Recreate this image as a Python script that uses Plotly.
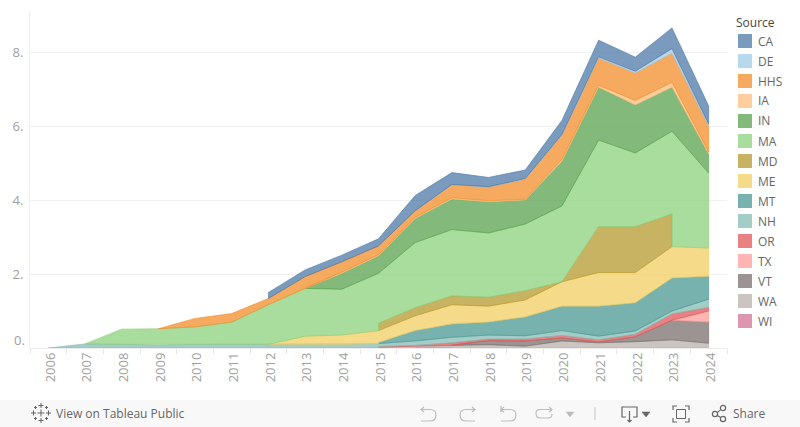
import plotly.graph_objects as go

years = list(range(2006, 2025))


def since(start, vals):
    return [None] * (start - 2006) + vals


WI = since(2016, [0.01, 0.01]) + [None] * 7
WA = since(2015, [.02, .04, .06, .09, .05, .19, .14, .17, .22, .13])
VT = since(2017, [.01, .11, .14, .08, .02, .13, .53, .57])
TX = since(2023, [0, .30])
OR = since(2015, [.02, .02, .06, .04, .05, .07, .06, .07, .17, .10])
NH = [0, .11, .10, .08, .10, .10, .10, .10, .10, .08, .12, .15, .11, .09, .13, .10, .09, .08, .22]
MT = since(2015, [.03, .28, .36, .35, .51, .66, .81, .76, .89, .62])
ME = since(2012, [0, .22, .25, .32, .40, .52, .43, .46, .66, .91, .82, .85, .76])
MD = since(2015, [.20, .22, .24, .24, .25, 0, 1.24, 1.24, .88, None])
MA = since(2007, [0, .41, .44, .47, .60, 1.07, 1.29, 1.24, 1.35, 1.76, 1.79, 1.74, 1.80, 2.05, 2.34, 1.99, 2.24, 2.03])
IN = since(2013, [0, .43, .47, .65, .83, .84, .65, 1.21, 1.43, 1.30, 1.19, .51])
IA = since(2013, [.02, .03, .03, .03, .03, .03, .02, .05, .05, .12, .13, .06])
HHS = since(2009, [0, .23, .23, .17, .30, .28, .24, .18, .35, .37, .55, .66, .74, .74, .79, .70])
DE = since(2016, [.01, .01, .01, .01, .01, .03, .05, .12, .05])
CA = since(2012, [.16, .18, .18, .19, .40, .32, .25, .23, .38, .45, .38, .56, .49])

legend_order = ["CA", "DE", "HHS", "IA", "IN", "MA", "MD", "ME", "MT", "NH", "OR", "TX", "VT", "WA", "WI"]
series = {"CA": CA, "DE": DE, "HHS": HHS, "IA": IA, "IN": IN, "MA": MA, "MD": MD, "ME": ME,
          "MT": MT, "NH": NH, "OR": OR, "TX": TX, "VT": VT, "WA": WA, "WI": WI}
colors = {"CA": "78,121,167", "DE": "160,203,232", "HHS": "242,142,43", "IA": "255,190,125",
          "IN": "89,161,79", "MA": "140,209,125", "MD": "182,153,45", "ME": "241,206,99",
          "MT": "73,152,148", "NH": "134,188,182", "OR": "225,87,89", "TX": "255,157,154",
          "VT": "121,112,110", "WA": "186,176,172", "WI": "211,114,149"}
ALPHA = 0.75

L, R, T, B = 30, 73, 12, 79
W, H = 800, 427
PW, PH = W - L - R, H - T - B


def px(x):
    return (x - L) / PW


def py(y):
    return (H - B - y) / PH


# running stack: the top of every layer at every year
stack_order = list(reversed(legend_order))
tops = {}
running = [0.0] * len(years)
for name in stack_order:
    vals = series[name]
    for i, v in enumerate(vals):
        if v is not None:
            running[i] += v
    tops[name] = [running[i] if vals[i] is not None else None for i in range(len(years))]


def floor_of_segment(pos, i):
    """Top of the nearest lower layer present at both ends of segment i..i+1."""
    for name in reversed(stack_order[:pos]):
        if series[name][i] is not None and series[name][i + 1] is not None:
            return tops[name][i], tops[name][i + 1]
    return 0.0, 0.0


fig = go.Figure()
for pos, name in enumerate(stack_order):
    vals = series[name]
    idx = [i for i, v in enumerate(vals) if v is not None]
    xs = [years[i] for i in idx]
    ys = [tops[name][i] for i in idx]
    for i in reversed(idx[:-1]):
        a, b = floor_of_segment(pos, i)
        xs += [years[i + 1], years[i]]
        ys += [b, a]
    fig.add_trace(go.Scatter(
        x=xs + xs[:1], y=ys + ys[:1], mode="lines", fill="toself", name=name,
        fillcolor=f"rgba({colors[name]},{ALPHA})",
        line=dict(color=f"rgba({colors[name]},0.8)", width=0.8),
        hoverinfo="name", showlegend=False))

FONT = "Open Sans"
shapes, ann = [], []


def text(x, y, s, size=12, color="#555555", anchor="left"):
    ann.append(dict(x=px(x), y=py(y), xref="paper", yref="paper", text=s, showarrow=False,
                    xanchor=anchor, yanchor="middle", borderpad=0,
                    font=dict(family=FONT, size=size, color=color)))


def path(d, color="#bdbdbd", width=1.2, fill=None):
    out = []
    for tok in d.split():
        if "," in tok:
            a, b = tok.split(",")
            out.append(f"{px(float(a)):.5f},{py(float(b)):.5f}")
        else:
            out.append(tok)
    shapes.append(dict(type="path", xref="paper", yref="paper", path=" ".join(out),
                       line=dict(color=color, width=width),
                       fillcolor=fill if fill else "rgba(0,0,0,0)", layer="above"))


def rect(x0, y0, x1, y1, fill, line=None):
    shapes.append(dict(type="rect", xref="paper", yref="paper", x0=px(x0), x1=px(x1), y0=py(y1), y1=py(y0),
                       fillcolor=fill, line=dict(width=0 if line is None else 1, color=line or fill),
                       layer="above"))


def circle(cx, cy, r, color="#666666"):
    shapes.append(dict(type="circle", xref="paper", yref="paper", x0=px(cx - r), x1=px(cx + r),
                       y0=py(cy + r), y1=py(cy - r), line=dict(color=color, width=1.2),
                       fillcolor="rgba(0,0,0,0)", layer="above"))


# legend
text(735, 22, "Source", size=12, color="#444444")
for i, name in enumerate(legend_order):
    cy = 41 + 20 * i
    rect(738, cy - 7, 752, cy + 7, f"rgba({colors[name]},{ALPHA})")
    text(757, cy, name, size=12, color="#666666")

# y label at the baseline sits above its gridline
text(26, 340, "0.", size=13, color="#a0a0a0", anchor="right")

# toolbar
rect(0, 400, 800, 427, "#f8f8f8")
text(55, 413, "View on Tableau Public", size=12, color="#666666")
text(732, 413, "Share", size=12, color="#666666")
for (cx, cy, a) in [(41, 413, 3.5), (41, 405.5, 2.5), (41, 420.5, 2.5), (33.5, 413, 2.5), (48.5, 413, 2.5),
                    (35.5, 407.5, 1.5), (46.5, 407.5, 1.5), (35.5, 418.5, 1.5), (46.5, 418.5, 1.5)]:
    path(f"M {cx - a},{cy} L {cx + a},{cy} M {cx},{cy - a} L {cx},{cy + a}", color="#666666", width=1)
path("M 424,407 L 421,409.5 L 424,412 M 421,409.5 L 430,409.5 Q 436,409.5 436,415 Q 436,421 430,421 L 421,421")
path("M 472,407 L 475,409.5 L 472,412 M 475,409.5 L 466,409.5 Q 460,409.5 460,415 Q 460,421 466,421 L 475,421")
path("M 501,406 L 501,412 M 504,407 L 501,409.5 L 504,412 M 501,409.5 L 510,409.5 Q 516,409.5 516,415 Q 516,421 510,421 L 501,421")
path("M 549,407 L 552,409.5 L 549,412 M 552,409.5 L 540,409.5 Q 536,409.5 536,413 Q 536,418 540,418 L 548,418 Q 552,418 552,414")
path("M 566,412 L 574,412 L 570,417 Z", fill="#bdbdbd", width=0.5)
path("M 595,407 L 595,420", color="#c4c4c4", width=1)
path("M 626,417 L 622,417 L 622,407 L 637,407 L 637,417 L 633,417", color="#666666")
path("M 629.5,411 L 629.5,422 M 627.5,420 L 629.5,422 L 631.5,420", color="#666666")
path("M 642,412 L 650,412 L 646,417 Z", color="#666666", fill="#666666", width=0.5)
path("M 673,410 L 673,406 L 677,406 M 685,406 L 689,406 L 689,410 M 689,418 L 689,422 L 685,422 M 677,422 L 673,422 L 673,418", color="#666666")
rect(676.5, 409.5, 685.5, 418.5, "rgba(0,0,0,0)", line="#666666")
circle(715, 414, 2.6)
circle(723, 408, 2.6)
circle(723, 419, 2.6)
path("M 717.2,412.6 L 720.8,409.6 M 717.2,415.4 L 720.8,417.6", color="#666666")

fig.update_layout(
    width=W, height=H, margin=dict(l=L, r=R, t=T, b=B, autoexpand=False),
    paper_bgcolor="white", plot_bgcolor="white", showlegend=False,
    shapes=shapes, annotations=ann,
    font=dict(family=FONT),
    xaxis=dict(range=[2005.5, 2024.5], tickvals=years, ticktext=[str(y) for y in years], tickangle=-90,
               ticks="", ticklen=0, showgrid=False, zeroline=False, showline=False,
               ticklabelshift=2, ticklabelstandoff=1,
               tickfont=dict(family=FONT, size=13, color="#a0a0a0"),
               minor=dict(tickvals=[y - 0.5 for y in years] + [2024.5], ticks="outside", ticklen=5,
                          tickcolor="#e6e6e6", tickwidth=1, showgrid=False)),
    yaxis=dict(range=[0, 336 / 37], tickvals=[2, 4, 6, 8], ticktext=["2.", "4.", "6.", "8."],
               showgrid=True, gridcolor="#f0f0f0", gridwidth=1, zeroline=True, zerolinecolor="#ececec",
               zerolinewidth=1, showline=True, linecolor="#f0f0f0", linewidth=1, ticks="",
               ticklabelstandoff=3, tickfont=dict(family=FONT, size=13, color="#a0a0a0")),
)
fig.write_html("out.html", config=dict(displayModeBar=False),
               post_script="document.body.style.margin='0';document.body.style.overflow='hidden';")
